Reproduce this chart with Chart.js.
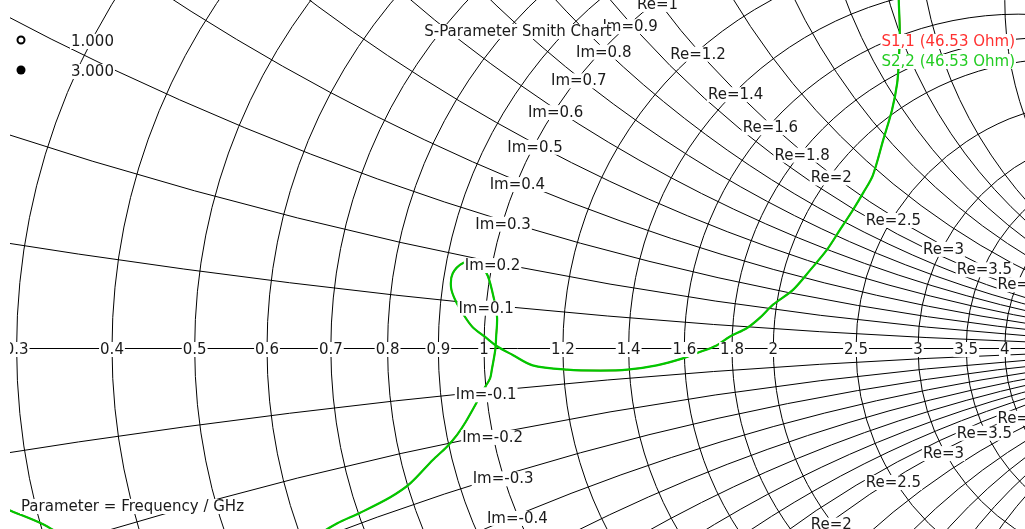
<!DOCTYPE html>
<html>
<head>
<meta charset="utf-8">
<script src="https://cdn.jsdelivr.net/npm/chart.js@4.4.1/dist/chart.umd.min.js"></script>
<style>
  html, body { margin: 0; padding: 0; background: #fff; }
  canvas { display: block; }
</style>
</head>
<body>
<canvas id="smith" width="1025" height="529"></canvas>
<script>
// reflection coefficient of the traces (S1,1 sits under S2,2)
const s22Re = [-0.581, -0.544, -0.508, -0.465, -0.327, -0.224,
  -0.169, -0.143, -0.108, -0.085, -0.059, -0.043, -0.031, -0.021, -0.008, 0.000,
  0.007, 0.009, 0.013, 0.014, 0.015, 0.010, 0.003, -0.010, -0.024, -0.036,
  -0.038, -0.033, -0.022, -0.013, 0.001, 0.015, 0.033, 0.056, 0.096, 0.134,
  0.165, 0.199, 0.229, 0.245, 0.268, 0.283, 0.303, 0.318, 0.333, 0.356,
  0.376, 0.395, 0.410, 0.425, 0.437, 0.448, 0.460, 0.470, 0.476, 0.478,
  0.479, 0.478, 0.477];
const s22Im = [-0.173, -0.188, -0.203, -0.227, -0.267, -0.233,
  -0.202, -0.190, -0.172, -0.156, -0.129, -0.114, -0.100, -0.085, -0.062, -0.047,
  -0.035, -0.025, -0.002, 0.013, 0.036, 0.063, 0.086, 0.099, 0.098, 0.086,
  0.070, 0.055, 0.036, 0.024, 0.013, 0.002, -0.008, -0.020, -0.025, -0.026,
  -0.025, -0.020, -0.012, -0.006, 0.003, 0.013, 0.023, 0.035, 0.050, 0.067,
  0.090, 0.113, 0.136, 0.159, 0.179, 0.199, 0.240, 0.274, 0.305, 0.332,
  0.366, 0.395, 0.424];
const s11Re = s22Re.slice();
const s11Im = s22Im.slice();

// smith grid
const rValues = [0.2, 0.3, 0.4, 0.5, 0.6, 0.7, 0.8, 0.9, 1, 1.2, 1.4, 1.6, 1.8, 2, 2.5, 3, 3.5, 4, 5, 10];
const xValues = [0.1, 0.2, 0.3, 0.4, 0.5, 0.6, 0.7, 0.8, 0.9, 1, 1.2, 1.4, 1.6, 1.8, 2, 2.5, 3, 3.5, 4, 5, 10];
const axisTicks = [0.3, 0.4, 0.5, 0.6, 0.7, 0.8, 0.9, 1, 1.2, 1.4, 1.6, 1.8, 2, 2.5, 3, 3.5, 4];
const imLabels = [0.1, 0.2, 0.3, 0.4, 0.5, 0.6, 0.7, 0.8, 0.9, 1, -0.1, -0.2, -0.3, -0.4, -0.5];
const reLabels = [1, 1.2, 1.4, 1.6, 1.8, 2, 2.5, 3, 3.5, 4];

const markerFreqs = ['1.000', '3.000'];
const traceNames = ['S1,1 (46.53 Ohm)', 'S2,2 (46.53 Ohm)'];

const FONT = '15px "DejaVu Sans"';
const GRID = '#000';
const TEXT = '#1a1a1a';

function gamma(r, x) {
  const a = r - 1, c = r + 1, den = c * c + x * x;
  return { re: (a * c + x * x) / den, im: (x * c - a * x) / den };
}

function boxText(ctx, text, x, y, color, align) {
  ctx.textAlign = align || 'center';
  const w = ctx.measureText(text).width;
  let left = x - w / 2;
  if (align === 'left') left = x;
  if (align === 'right') left = x - w;
  ctx.fillStyle = '#fff';
  ctx.fillRect(left - 1, y - 8, w + 2, 15);
  ctx.fillStyle = color;
  ctx.fillText(text, x, y);
}

const smithGrid = {
  id: 'smithGrid',
  beforeDatasetsDraw(chart) {
    const { ctx, chartArea: ca, scales: { x: xs, y: ys } } = chart;
    const unit = xs.getPixelForValue(1) - xs.getPixelForValue(0);
    ctx.save();
    ctx.beginPath();
    ctx.rect(ca.left, ca.top, ca.right - ca.left, ca.bottom - ca.top);
    ctx.clip();
    ctx.strokeStyle = GRID;
    ctx.lineWidth = 1;
    rValues.forEach(r => {
      ctx.beginPath();
      ctx.arc(xs.getPixelForValue(r / (r + 1)), ys.getPixelForValue(0), unit / (r + 1), 0, Math.PI * 2);
      ctx.stroke();
    });
    xValues.forEach(v => {
      [v, -v].forEach(x => {
        ctx.beginPath();
        ctx.arc(xs.getPixelForValue(1), ys.getPixelForValue(1 / x), unit / Math.abs(x), 0, Math.PI * 2);
        ctx.stroke();
      });
    });
    const y0 = Math.round(ys.getPixelForValue(0)) + 0.5;
    ctx.beginPath();
    ctx.moveTo(ca.left, y0);
    ctx.lineTo(ca.right, y0);
    ctx.stroke();
    ctx.restore();
  },
  afterDatasetsDraw(chart) {
    const { ctx, chartArea: ca, scales: { x: xs, y: ys } } = chart;
    const px = v => xs.getPixelForValue(v);
    const py = v => ys.getPixelForValue(v);
    ctx.save();
    ctx.font = FONT;
    ctx.textBaseline = 'middle';

    ctx.save();
    ctx.beginPath();
    ctx.rect(ca.left, ca.top, ca.right - ca.left, ca.bottom - ca.top);
    ctx.clip();
    imLabels.forEach(x => {
      const g = gamma(1, x);
      boxText(ctx, 'Im=' + x, px(g.re), py(g.im) + 4, TEXT);
    });
    reLabels.forEach(r => {
      [1, -1].forEach(s => {
        const g = gamma(r, s);
        boxText(ctx, 'Re=' + r, px(g.re), py(g.im) + 4, TEXT);
      });
    });
    axisTicks.forEach(r => {
      boxText(ctx, String(r), px((r - 1) / (r + 1)), py(0) + 2, TEXT);
    });
    ctx.restore();

    // title and legends
    boxText(ctx, 'S-Parameter Smith Chart', 518, 32, TEXT);
    boxText(ctx, traceNames[0], 1015, 42, '#ff3030', 'right');
    boxText(ctx, traceNames[1], 1015, 62, '#22cc22', 'right');
    boxText(ctx, markerFreqs[0], 71, 42, TEXT, 'left');
    boxText(ctx, markerFreqs[1], 71, 72, TEXT, 'left');
    boxText(ctx, 'Parameter = Frequency / GHz', 21, 507, TEXT, 'left');

    ctx.strokeStyle = '#000';
    ctx.lineWidth = 2;
    ctx.beginPath();
    ctx.arc(21, 40, 3.5, 0, Math.PI * 2);
    ctx.stroke();
    ctx.fillStyle = '#000';
    ctx.beginPath();
    ctx.arc(21, 70, 4.5, 0, Math.PI * 2);
    ctx.fill();
    ctx.restore();
  }
};

const toPoints = (re, im) => re.map((v, i) => ({ x: v, y: im[i] }));

new Chart(document.getElementById('smith'), {
  type: 'scatter',
  data: {
    datasets: [
      {
        label: traceNames[1],
        data: toPoints(s22Re, s22Im),
        showLine: true,
        borderColor: '#00c800',
        borderWidth: 2.2,
        pointRadius: 0,
        tension: 0.3,
        order: 0
      },
      {
        label: traceNames[0],
        data: toPoints(s11Re, s11Im),
        showLine: true,
        borderColor: '#ff2020',
        borderWidth: 1.5,
        pointRadius: 0,
        tension: 0.3,
        order: 1
      }
    ]
  },
  options: {
    responsive: false,
    animation: false,
    devicePixelRatio: 1,
    layout: { padding: { left: 10, right: 0, top: 0, bottom: 0 } },
    elements: { line: { capBezierPoints: false } },
    scales: {
      x: { type: 'linear', min: -474 / 868, max: 541 / 868, display: false },
      y: { type: 'linear', min: -181 / 868, max: 348 / 868, display: false }
    },
    plugins: { legend: { display: false }, tooltip: { enabled: false } }
  },
  plugins: [smithGrid]
});
</script>
</body>
</html>
